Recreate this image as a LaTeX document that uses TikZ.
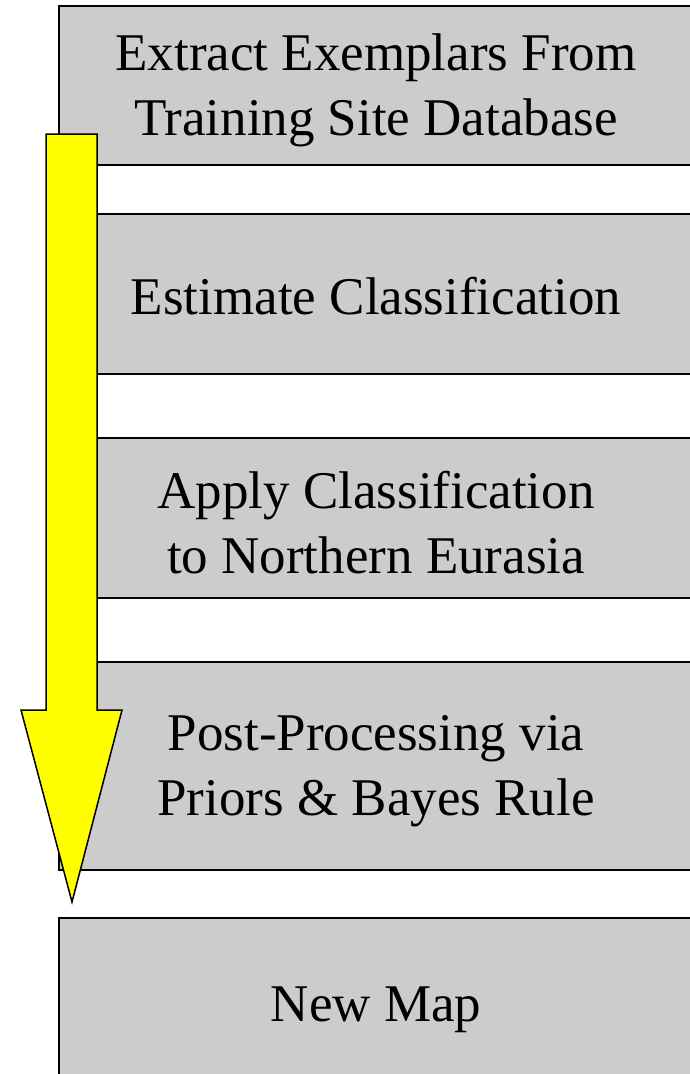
\documentclass[tikz,border=0pt]{standalone}
\usepackage{fontspec}
\setmainfont{Liberation Serif}
\definecolor{boxgray}{RGB}{204,204,204}
\definecolor{arrowyellow}{RGB}{255,255,0}
\begin{document}
\begin{tikzpicture}[x=1pt,y=-1pt,
  stepbox/.style={draw=black, line width=1.5pt, fill=boxgray, rectangle,
    minimum width=634pt, inner sep=0pt},
  steptext/.style={align=center, inner sep=0pt,
    font=\fontsize{53}{65}\selectfont},
  bigarrow/.style={draw=black, line width=1.5pt, fill=arrowyellow, line join=miter}]
\useasboundingbox (0,0) rectangle (690,1074);
\node[stepbox, minimum height=159pt] (b1) at (376,85.5) {};
\node[stepbox, minimum height=160pt] (b2) at (376,294) {};
\node[stepbox, minimum height=160pt] (b3) at (376,518) {};
\node[stepbox, minimum height=208pt] (b4) at (376,766) {};
\node[stepbox, minimum height=180pt] (b5) at (376,1008) {};
\node[steptext, yshift=-5pt] (t1) at (b1.center) {Extract Exemplars From\\Training Site Database};
\node[steptext, yshift=-2pt] (t2) at (b2.center) {Estimate Classification};
\node[steptext, yshift=-5pt] (t3) at (b3.center) {Apply Classification\\to Northern Eurasia};
\node[steptext, yshift=-5pt] (t4) at (b4.center) {Post-Processing via\\Priors \& Bayes Rule};
\node[steptext, yshift=-2pt] (t5) at (b5.center) {New Map};
\coordinate (a1) at (46,134);
\coordinate (a2) at (97,134);
\coordinate (a3) at (97,710);
\coordinate (a4) at (122,710);
\coordinate (tip) at (72,902);
\coordinate (a6) at (21,710);
\coordinate (a7) at (46,710);
\draw[bigarrow] (a1) -- (a2) -- (a3) -- (a4) -- (tip) -- (a6) -- (a7) -- cycle;
\end{tikzpicture}
\end{document}
